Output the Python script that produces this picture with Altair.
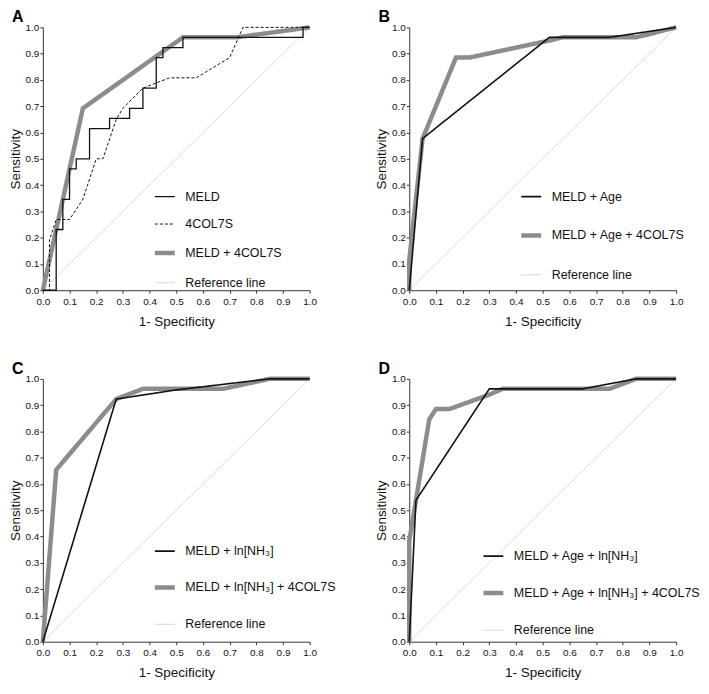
import altair as alt
import pandas as pd

# ---------------- data ----------------
ref_x = [0.0, 1.0]
ref_y = [0.0, 1.0]

# Panel A
a_meld_x = [0.0, 0.05, 0.075, 0.1, 0.125, 0.175, 0.25, 0.325, 0.375, 0.425, 0.45, 0.525, 0.975, 1.0]
a_meld_y = [0.0, 0.231, 0.346, 0.462, 0.5, 0.615, 0.654, 0.692, 0.769, 0.885, 0.923, 0.962, 1.0, 1.0]
a_col_x = [0.0, 0.025, 0.025, 0.05, 0.1, 0.15, 0.2, 0.225, 0.275, 0.3, 0.375, 0.475, 0.575, 0.7, 0.75, 1.0]
a_col_y = [0.0, 0.0, 0.192, 0.269, 0.269, 0.346, 0.5, 0.5, 0.65, 0.692, 0.769, 0.808, 0.808, 0.885, 1.0, 1.0]
a_comb_x = [0.0, 0.15, 0.525, 0.725, 1.0]
a_comb_y = [0.0, 0.692, 0.962, 0.962, 1.0]

# Panel B
b_base_x = [0.0, 0.05, 0.525, 0.75, 1.0]
b_base_y = [0.0, 0.577, 0.962, 0.962, 1.0]
b_comb_x = [0.0, 0.0, 0.05, 0.175, 0.225, 0.525, 0.575, 0.85, 1.0]
b_comb_y = [0.0, 0.115, 0.577, 0.885, 0.885, 0.95, 0.962, 0.962, 1.0]

# Panel C
c_base_x = [0.0, 0.275, 0.5, 0.85, 1.0]
c_base_y = [0.0, 0.923, 0.958, 1.0, 1.0]
c_comb_x = [0.0, 0.05, 0.275, 0.375, 0.675, 0.85, 1.0]
c_comb_y = [0.0, 0.654, 0.923, 0.962, 0.962, 1.0, 1.0]

# Panel D
d_base_x = [0.0, 0.025, 0.3, 0.65, 0.85, 1.0]
d_base_y = [0.0, 0.538, 0.962, 0.962, 1.0, 1.0]
d_comb_x = [0.0, 0.0, 0.025, 0.075, 0.1, 0.15, 0.3, 0.35, 0.75, 0.85, 1.0]
d_comb_y = [0.0, 0.385, 0.538, 0.846, 0.885, 0.885, 0.94, 0.962, 0.962, 1.0, 1.0]

ticks = [0.0, 0.1, 0.2, 0.3, 0.4, 0.5, 0.6, 0.7, 0.8, 0.9, 1.0]

BLACK = "#111111"
GRAY = "#8c8c8c"
LIGHT = "#d4d4d4"

W, H = 268, 264


def df(xs, ys, name):
    d = pd.DataFrame({"fpr": xs, "tpr": ys, "series": name})
    d["rank"] = range(len(d))
    return d


def panel(letter, layers, names, colors, widths, dashes, lx, ly, rowpad):
    legend = alt.Legend(
        orient="none", legendX=lx, legendY=ly, title=None,
        symbolType="stroke", symbolSize=400, labelFontSize=12.5,
        labelOffset=8, rowPadding=rowpad, padding=0, labelColor="#111111",
        labelLimit=400,
    )
    color = alt.Color("series:N", scale=alt.Scale(domain=names, range=colors), legend=legend)
    sw = alt.StrokeWidth("series:N", scale=alt.Scale(type="ordinal", domain=names, range=widths), legend=legend)
    sd = alt.StrokeDash("series:N", scale=alt.Scale(domain=names, range=dashes), legend=legend)
    x = alt.X("fpr:Q", scale=alt.Scale(domain=[0, 1], nice=False, zero=False),
              axis=alt.Axis(values=ticks, format=".1f", title="1- Specificity"))
    y = alt.Y("tpr:Q", scale=alt.Scale(domain=[0, 1], nice=False, zero=False),
              axis=alt.Axis(values=ticks, format=".1f", title="Sensitivity"))
    charts = []
    for data, interp in layers:
        charts.append(
            alt.Chart(data).mark_line(interpolate=interp, strokeCap="butt", strokeJoin="miter")
            .encode(x=x, y=y, color=color, strokeWidth=sw, strokeDash=sd, order=alt.Order("rank:Q"))
        )
    return alt.layer(*charts).properties(
        width=W, height=H,
        title=alt.TitleParams(letter, anchor="start", frame="bounds", fontSize=16,
                              fontWeight="bold", offset=-7, dx=4, color="#000000"),
    )


# ---- Panel A
A_names = ["MELD", "4COL7S", "MELD + 4COL7S", "Reference line"]
pA = panel(
    "A",
    [(df(ref_x, ref_y, "Reference line"), "linear"),
     (df(a_comb_x, a_comb_y, "MELD + 4COL7S"), "linear"),
     (df(a_col_x, a_col_y, "4COL7S"), "linear"),
     (df(a_meld_x, a_meld_y, "MELD"), "step-after")],
    A_names, [BLACK, BLACK, GRAY, LIGHT], [1.3, 1.0, 4.5, 1.0],
    [[1, 0], [3, 2], [1, 0], [1, 0]], 110, 159, 10,
)

# ---- Panel B
B_names = ["MELD + Age", "MELD + Age + 4COL7S", "Reference line"]
pB = panel(
    "B",
    [(df(ref_x, ref_y, "Reference line"), "linear"),
     (df(b_comb_x, b_comb_y, "MELD + Age + 4COL7S"), "linear"),
     (df(b_base_x, b_base_y, "MELD + Age"), "linear")],
    B_names, [BLACK, GRAY, LIGHT], [1.6, 4.5, 1.0],
    [[1, 0], [1, 0], [1, 0]], 110, 159, 19.5,
)

# ---- Panel C
C_names = ["MELD + ln[NH₃]", "MELD + ln[NH₃] + 4COL7S", "Reference line"]
pC = panel(
    "C",
    [(df(ref_x, ref_y, "Reference line"), "linear"),
     (df(c_comb_x, c_comb_y, "MELD + ln[NH₃] + 4COL7S"), "linear"),
     (df(c_base_x, c_base_y, "MELD + ln[NH₃]"), "linear")],
    C_names, [BLACK, GRAY, LIGHT], [1.6, 4.5, 1.0],
    [[1, 0], [1, 0], [1, 0]], 110, 162, 17,
)

# ---- Panel D
D_names = ["MELD + Age + ln[NH₃]", "MELD + Age + ln[NH₃] + 4COL7S", "Reference line"]
pD = panel(
    "D",
    [(df(ref_x, ref_y, "Reference line"), "linear"),
     (df(d_comb_x, d_comb_y, "MELD + Age + ln[NH₃] + 4COL7S"), "linear"),
     (df(d_base_x, d_base_y, "MELD + Age + ln[NH₃]"), "linear")],
    D_names, [BLACK, GRAY, LIGHT], [1.6, 4.5, 1.0],
    [[1, 0], [1, 0], [1, 0]], 72, 167, 17.5,
)

chart = (
    alt.concat(pA, pB, pC, pD, columns=2, spacing={"row": 89, "column": 100}, bounds="flush")
    .resolve_scale(color="independent", strokeWidth="independent", strokeDash="independent")
    .resolve_legend(color="independent", strokeWidth="independent", strokeDash="independent")
    .configure(font="Liberation Sans", padding=0, background="white")
    .configure_view(stroke=None)
    .configure_axis(
        grid=False, domainColor="#333333", tickColor="#333333", domainWidth=1, tickWidth=1,
        tickSize=3, labelFontSize=10, labelColor="#111111",
        titleFontSize=13.5, titleFontWeight="normal", titleColor="#111111",
        labelOverlap=False, labelFlush=False,
    )
    .configure_axisX(titlePadding=8, labelPadding=3)
    .configure_axisY(titlePadding=3, labelPadding=1)
)

chart.save("out.html", embed_options={"renderer": "svg", "actions": False})
